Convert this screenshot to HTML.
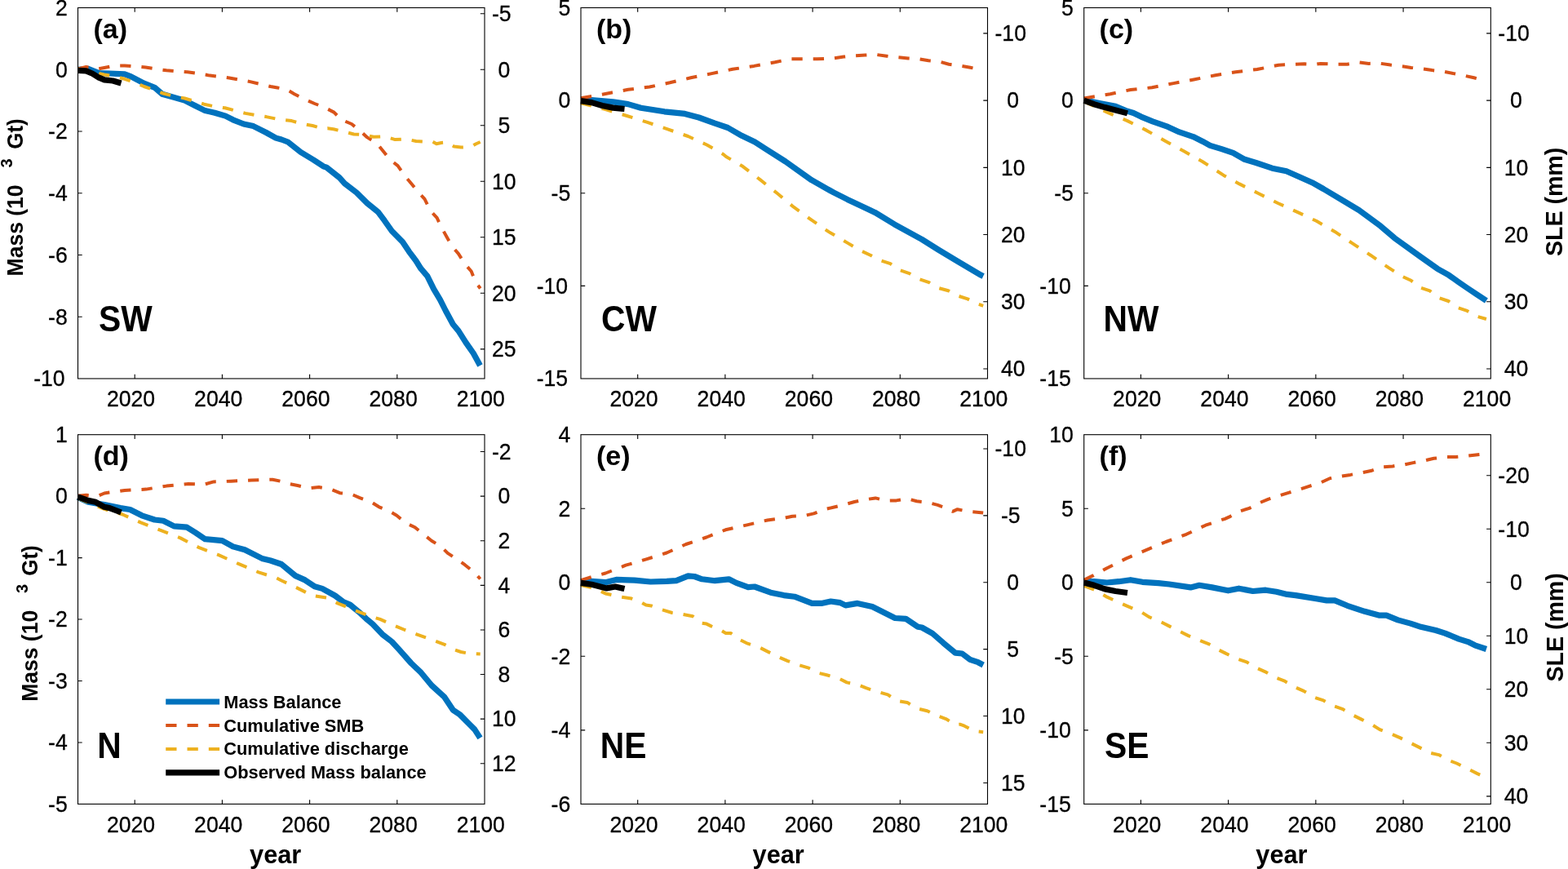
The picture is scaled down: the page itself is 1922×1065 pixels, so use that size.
<!DOCTYPE html>
<html><head><meta charset="utf-8"><title>Figure</title>
<style>html,body{margin:0;padding:0;background:#fff;overflow:hidden;}svg{display:block;}
text{font-family:"Liberation Sans",Arial,Helvetica,sans-serif;fill:#000;}</style></head>
<body><svg width="1922" height="1065" viewBox="0 0 1922 1065">
<rect width="1922" height="1065" fill="#fff"/>
<g>
<polyline points="95.5,85.3 108.1,84.3 121.3,89.6 134.4,90 152.8,90.9 160.7,93.9 176.5,102.1 189.6,107.3 198.8,115.2 213.3,119.4 226.4,123.1 239.6,129.7 251.4,135.6 263.2,138.2 276.4,142.1 285.6,146.8 298.7,152 310.6,154.6 326.3,162.5 338.2,169.1 345,171 352.9,174 368.7,186.5 384.4,196 396.3,203.8 400.2,205.1 416,217.6 422.5,224.8 437,236 450.2,249.1 463.3,259.7 471.2,270.2 480.4,283.3 493.5,296.5 501.4,308.3 509.3,318.8 515.9,329.2 523.8,338.4 531.6,354.2 539.5,367.3 546.1,380.5 555.3,397.5 561.9,405.4 571.1,419.9 580.3,433 588.5,448" fill="none" stroke="#0072bd" stroke-width="7.2" stroke-linejoin="round"/>
<polyline points="95.5,84.5 105.5,82 113,83 120,84.5 127.9,83 140,80.5 152.8,80.4 165,81.2 178.5,82.6 191,84.5 204.1,86.3 217,87.5 229.7,88.3 242,90 255.4,92.2 268,93.8 281,95.5 294,97.8 306.6,100.1 319,103 331.6,106 340,107.5 350.9,109.3 360.8,115.2 373.9,121.8 385.7,127 397.6,131.6 409.4,137.6 418.6,146.8 431.1,152 441.6,160.6 450.2,168.4 462,175.7 469.9,185.5 477.8,195.4 487.6,203.1 496.2,215.6 504,224.8 513.2,236 520.5,243.9 527.7,258.3 535.6,266.9 541.5,279.4 547.4,289.9 554,301.7 561.9,310.9 569.8,323.4 577.7,332.5 582.9,345.6 588.8,353.5" fill="none" stroke="#d95319" stroke-width="4.0" stroke-dasharray="13.3 13.0" stroke-linejoin="round"/>
<polyline points="95.5,84.5 110,87 127.9,91.5 140,93.5 152.8,96.8 165,101 176.5,106 188,110 200.2,114.5 213,118 226.4,120.5 238,124 250.1,127.7 263,130.5 275.7,132.3 288,135.5 300.7,138.9 313,141 326.3,143.1 338,145.5 345,146.8 357.5,148.1 371.3,152 383.1,154 396.3,157.9 401.5,157.3 408.7,158.3 421.2,161.2 433.7,164.5 446.2,165.2 458,167.8 471.8,167.1 484.3,171.1 497.5,170.4 510,173 523.1,173.7 529,173 535,176.3 541,175 548.1,174.4 556.6,179.6 565,180.5 571.1,180.3 577.7,179.6 583.6,176.3 588.7,174" fill="none" stroke="#edb120" stroke-width="4.0" stroke-dasharray="13.3 13.0" stroke-linejoin="round"/>
<polyline points="95.5,86.3 105.5,86.9 113.4,90.2 121.3,95.2 127.9,97.9 138.4,99 148.5,102" fill="none" stroke="#000" stroke-width="7.2" stroke-linejoin="round"/>
<rect x="95.5" y="9.5" width="498.5" height="454.5" stroke="#000" stroke-width="1.1" fill="none"/>
<path d="M165.18 464v-5.2M165.18 9.5v5.2M272.39 464v-5.2M272.39 9.5v5.2M379.59 464v-5.2M379.59 9.5v5.2M486.8 464v-5.2M486.8 9.5v5.2M95.5 388.25h5.2M95.5 312.5h5.2M95.5 236.75h5.2M95.5 161h5.2M95.5 85.25h5.2M594 16.73h-5.2M594 85.25h-5.2M594 153.77h-5.2M594 222.28h-5.2M594 290.8h-5.2M594 359.31h-5.2M594 427.83h-5.2" stroke="#000" stroke-width="1.1" fill="none"/>
<g font-size="26.6" stroke="#000" stroke-width="0.3">
<text transform="translate(160.48 497.9) scale(1 1.03)" text-anchor="middle">2020</text>
<text transform="translate(267.69 497.9) scale(1 1.03)" text-anchor="middle">2040</text>
<text transform="translate(374.89 497.9) scale(1 1.03)" text-anchor="middle">2060</text>
<text transform="translate(482.1 497.9) scale(1 1.03)" text-anchor="middle">2080</text>
<text transform="translate(589.3 497.9) scale(1 1.03)" text-anchor="middle">2100</text>
<text transform="translate(79.6 473.3) scale(1 1.03)" text-anchor="end">-10</text>
<text transform="translate(82.7 397.55) scale(1 1.03)" text-anchor="end">-8</text>
<text transform="translate(82.7 321.8) scale(1 1.03)" text-anchor="end">-6</text>
<text transform="translate(82.7 246.05) scale(1 1.03)" text-anchor="end">-4</text>
<text transform="translate(82.7 170.3) scale(1 1.03)" text-anchor="end">-2</text>
<text transform="translate(82.7 94.55) scale(1 1.03)" text-anchor="end">0</text>
<text transform="translate(82.7 18.8) scale(1 1.03)" text-anchor="end">2</text>
<text transform="translate(603 26.03) scale(1 1.03)">-5</text>
<text transform="translate(610.39 94.55) scale(1 1.03)">0</text>
<text transform="translate(610.39 163.07) scale(1 1.03)">5</text>
<text transform="translate(603 231.58) scale(1 1.03)">10</text>
<text transform="translate(603 300.1) scale(1 1.03)">15</text>
<text transform="translate(603 368.61) scale(1 1.03)">20</text>
<text transform="translate(603 437.13) scale(1 1.03)">25</text>
</g>
<text transform="translate(114.4 46.5)" font-size="34" font-weight="bold">(a)</text>
<text transform="translate(120.92 405.5) scale(1 1.08)" font-size="40.8" font-weight="bold">SW</text>
</g>
<g>
<polyline points="712,122.8 725.1,122.5 751.4,124.9 769.8,127.6 785.6,132.2 814.5,136.8 839.5,139.4 856.6,144 876.3,151.2 892.1,156.5 909.2,166.3 925.3,174 937.3,181.8 962.7,197.9 994.8,220.7 1021.8,235.9 1038.7,244.4 1072.6,260.4 1096.2,274.8 1130,293.4 1150.3,306.1 1174,320.4 1202.7,337.3 1205.2,338.5" fill="none" stroke="#0072bd" stroke-width="7.2" stroke-linejoin="round"/>
<polyline points="712,120.3 738.3,115.7 769.8,109.8 796.1,106.5 821.1,101.3 846.7,95.3 872.4,90.1 898,84.8 924.3,80.9 949.9,76.3 968.6,72.2 981.7,72.2 1001.4,72.2 1021.1,71.5 1034.3,69.6 1047.4,68.3 1060.6,67.6 1073.7,66.9 1086.9,68.7 1100,70.2 1113.2,71.5 1126.3,72.2 1138.1,74.2 1151.3,75.5 1163.1,78.8 1177.6,80.7 1189.4,82.7 1205.2,86" fill="none" stroke="#d95319" stroke-width="4.0" stroke-dasharray="13.3 13.0" stroke-linejoin="round"/>
<polyline points="712,126.2 742.2,134.1 768.5,142 793.5,149.9 818.5,158.4 843.4,167 866.4,177.5 886.8,189.3 890,192 910.3,203.8 932.3,220.7 952.5,236.8 972.8,253.7 994.8,269.7 1015.9,284.1 1038.7,297.6 1055.1,307.2 1066.9,312.7 1078.7,319 1091.4,323.2 1102.4,330.9 1114.7,335.1 1126.1,341.8 1138.8,346.1 1149.7,352.8 1162.4,356.2 1174.3,362.6 1186.1,366.4 1197.9,372.3 1205.2,374.8" fill="none" stroke="#edb120" stroke-width="4.0" stroke-dasharray="13.3 13.0" stroke-linejoin="round"/>
<polyline points="712,123.6 725.1,125.6 738.3,129.5 751.4,132.1 765.5,133.5" fill="none" stroke="#000" stroke-width="7.2" stroke-linejoin="round"/>
<rect x="712" y="9.5" width="498.5" height="454.5" stroke="#000" stroke-width="1.1" fill="none"/>
<path d="M781.68 464v-5.2M781.68 9.5v5.2M888.89 464v-5.2M888.89 9.5v5.2M996.09 464v-5.2M996.09 9.5v5.2M1103.3 464v-5.2M1103.3 9.5v5.2M712 350.38h5.2M712 236.75h5.2M712 123.12h5.2M1210.5 40.91h-5.2M1210.5 123.12h-5.2M1210.5 205.34h-5.2M1210.5 287.56h-5.2M1210.5 369.78h-5.2M1210.5 452h-5.2" stroke="#000" stroke-width="1.1" fill="none"/>
<g font-size="26.6" stroke="#000" stroke-width="0.3">
<text transform="translate(776.98 497.9) scale(1 1.03)" text-anchor="middle">2020</text>
<text transform="translate(884.19 497.9) scale(1 1.03)" text-anchor="middle">2040</text>
<text transform="translate(991.39 497.9) scale(1 1.03)" text-anchor="middle">2060</text>
<text transform="translate(1098.6 497.9) scale(1 1.03)" text-anchor="middle">2080</text>
<text transform="translate(1205.8 497.9) scale(1 1.03)" text-anchor="middle">2100</text>
<text transform="translate(696.1 473.3) scale(1 1.03)" text-anchor="end">-15</text>
<text transform="translate(696.1 359.68) scale(1 1.03)" text-anchor="end">-10</text>
<text transform="translate(699.2 246.05) scale(1 1.03)" text-anchor="end">-5</text>
<text transform="translate(699.2 132.43) scale(1 1.03)" text-anchor="end">0</text>
<text transform="translate(699.2 18.8) scale(1 1.03)" text-anchor="end">5</text>
<text transform="translate(1219.5 50.21) scale(1 1.03)">-10</text>
<text transform="translate(1234.28 132.43) scale(1 1.03)">0</text>
<text transform="translate(1226.89 214.64) scale(1 1.03)">10</text>
<text transform="translate(1226.89 296.86) scale(1 1.03)">20</text>
<text transform="translate(1226.89 379.08) scale(1 1.03)">30</text>
<text transform="translate(1226.89 461.3) scale(1 1.03)">40</text>
</g>
<text transform="translate(730.9 46.5)" font-size="34" font-weight="bold">(b)</text>
<text transform="translate(736.93 405.5) scale(1 1.08)" font-size="40.8" font-weight="bold">CW</text>
</g>
<g>
<polyline points="1328.7,122.4 1347.7,126.4 1367.4,130.3 1380,135.6 1389.4,138.5 1398.8,143.1 1412.9,148.8 1431.6,155.4 1445.7,161.9 1462.6,167.6 1473.9,173.2 1483.3,178.4 1497.4,182.6 1511.5,187.3 1525.5,195.3 1539.6,199.5 1559.4,206.2 1576.8,209.7 1594.3,217.5 1608.3,223.7 1622.2,231.5 1648.4,247.2 1665.9,257.7 1692.1,276.9 1709.5,291.8 1741,314.5 1761.9,329.3 1775.9,337.2 1788.1,345.9 1798.3,352.9 1810.1,360.8 1821.9,368.5" fill="none" stroke="#0072bd" stroke-width="7.2" stroke-linejoin="round"/>
<polyline points="1328.7,120.5 1360.9,115.2 1385.8,110 1412.1,107.3 1438.4,102.1 1463.4,97.5 1489.7,92.2 1514.6,88.3 1540.9,85 1567.2,79.7 1585.9,78.9 1599,78.3 1612.2,78.9 1618.7,77.9 1638.5,78.7 1651.6,78.7 1664.8,76.3 1677.9,77.9 1691,77.6 1704.2,79.6 1716.7,80.9 1729.8,82.9 1742.3,84.2 1755.4,86.1 1768.6,87.5 1781.7,90.1 1794.9,92.7 1806.7,95.3 1821.9,99.5" fill="none" stroke="#d95319" stroke-width="4.0" stroke-dasharray="13.3 13.0" stroke-linejoin="round"/>
<polyline points="1328.7,124.4 1358.2,138.2 1381.9,148.1 1405.5,159.9 1428.6,173 1451.6,185.5 1473.9,198 1500,214.9 1519.2,225.4 1541.9,236.7 1566.4,249 1589.1,259.4 1613.5,270.8 1636.2,283.9 1657.2,297.9 1679.9,312.7 1702.6,328.4 1717.9,338.3 1729.7,343.8 1739.9,352.1 1752.6,356.4 1762.8,364.7 1775.4,369 1786.5,376.9 1798.3,380.9 1810.1,387.6 1821.9,391" fill="none" stroke="#edb120" stroke-width="4.0" stroke-dasharray="13.3 13.0" stroke-linejoin="round"/>
<polyline points="1328.7,123.1 1341.1,127.7 1354.3,131.6 1367.4,134.9 1382,138.9" fill="none" stroke="#000" stroke-width="7.2" stroke-linejoin="round"/>
<rect x="1328.7" y="9.5" width="498.6" height="454.5" stroke="#000" stroke-width="1.1" fill="none"/>
<path d="M1398.4 464v-5.2M1398.4 9.5v5.2M1505.62 464v-5.2M1505.62 9.5v5.2M1612.85 464v-5.2M1612.85 9.5v5.2M1720.07 464v-5.2M1720.07 9.5v5.2M1328.7 350.38h5.2M1328.7 236.75h5.2M1328.7 123.12h5.2M1827.3 40.91h-5.2M1827.3 123.12h-5.2M1827.3 205.34h-5.2M1827.3 287.56h-5.2M1827.3 369.78h-5.2M1827.3 452h-5.2" stroke="#000" stroke-width="1.1" fill="none"/>
<g font-size="26.6" stroke="#000" stroke-width="0.3">
<text transform="translate(1393.7 497.9) scale(1 1.03)" text-anchor="middle">2020</text>
<text transform="translate(1500.92 497.9) scale(1 1.03)" text-anchor="middle">2040</text>
<text transform="translate(1608.15 497.9) scale(1 1.03)" text-anchor="middle">2060</text>
<text transform="translate(1715.37 497.9) scale(1 1.03)" text-anchor="middle">2080</text>
<text transform="translate(1822.6 497.9) scale(1 1.03)" text-anchor="middle">2100</text>
<text transform="translate(1312.8 473.3) scale(1 1.03)" text-anchor="end">-15</text>
<text transform="translate(1312.8 359.68) scale(1 1.03)" text-anchor="end">-10</text>
<text transform="translate(1315.9 246.05) scale(1 1.03)" text-anchor="end">-5</text>
<text transform="translate(1315.9 132.43) scale(1 1.03)" text-anchor="end">0</text>
<text transform="translate(1315.9 18.8) scale(1 1.03)" text-anchor="end">5</text>
<text transform="translate(1836.3 50.21) scale(1 1.03)">-10</text>
<text transform="translate(1851.08 132.43) scale(1 1.03)">0</text>
<text transform="translate(1843.69 214.64) scale(1 1.03)">10</text>
<text transform="translate(1843.69 296.86) scale(1 1.03)">20</text>
<text transform="translate(1843.69 379.08) scale(1 1.03)">30</text>
<text transform="translate(1843.69 461.3) scale(1 1.03)">40</text>
</g>
<text transform="translate(1347.6 46.5)" font-size="34" font-weight="bold">(c)</text>
<text transform="translate(1352.57 405.5) scale(1 1.08)" font-size="40.8" font-weight="bold">NW</text>
</g>
<g>
<polyline points="95.5,609.4 108.1,615.3 127.9,618.6 147.6,622.6 159.4,624.5 173.9,631.8 189.6,637 200.2,638.3 213.3,644.9 229.1,646.2 239.6,652.8 251.4,660.7 272.4,662.7 285.6,669.9 300,673.8 321.1,684.4 331.6,687 345,691.5 362.1,705.6 373.9,710.9 385.7,718.8 395,721.4 410.7,730 421.2,737.8 429.1,741.1 439.6,749.7 448.8,758.2 456.7,764.8 468.6,777.3 480.4,786.5 489.7,796.6 504.2,813 516,824.2 529.1,840 544.9,854.4 555.4,870.2 563.3,875.4 575.1,887.3 581.7,893.9 588.5,904.4" fill="none" stroke="#0072bd" stroke-width="7.2" stroke-linejoin="round"/>
<polyline points="95.5,607.8 105.5,606.8 114,607.5 121.3,607.3 127.9,604.5 134,603.5 152.8,600.9 179.1,599.6 204.1,595.6 231,593 250.1,593.7 261.9,590.4 283,589.7 308.6,588.4 334.2,587.7 345,590 354.2,593 364.7,595 379.2,598.3 391,597 405.5,599.6 416.6,604.2 430.4,605.5 441,610.1 454.1,614.7 464.6,621.3 476.4,625.9 486.3,631.8 497.5,641 508.6,646.2 519.8,655.4 529,662.7 540.8,669.9 548.7,677.8 560.6,685.7 569.8,692.2 581.6,701.7 588.7,709.5" fill="none" stroke="#d95319" stroke-width="4.0" stroke-dasharray="13.3 13.0" stroke-linejoin="round"/>
<polyline points="95.5,610.7 127.9,623.9 150.2,630.5 172.5,640.3 197.5,650.2 221.2,659.4 244.2,671.2 268.5,680.4 292.2,690.9 317.1,701.4 338.2,708 345,711.5 363.4,720.1 383.1,730 400.2,732.6 413.3,739.1 435.7,748.3 456.7,756.2 465.9,758.9 480.4,765.4 496.2,772 510.6,777.3 529,783.8 544.8,789.8 555.3,795.7 565,799 575,800.9 588.7,801.6" fill="none" stroke="#edb120" stroke-width="4.0" stroke-dasharray="13.3 13.0" stroke-linejoin="round"/>
<polyline points="95.5,608.8 108.1,613.4 117.3,615.3 127.9,621.3 134.4,622.6 148.5,628" fill="none" stroke="#000" stroke-width="7.2" stroke-linejoin="round"/>
<rect x="95.5" y="532.7" width="498.5" height="452.7" stroke="#000" stroke-width="1.1" fill="none"/>
<path d="M165.18 985.4v-5.2M165.18 532.7v5.2M272.39 985.4v-5.2M272.39 532.7v5.2M379.59 985.4v-5.2M379.59 532.7v5.2M486.8 985.4v-5.2M486.8 532.7v5.2M95.5 909.95h5.2M95.5 834.5h5.2M95.5 759.05h5.2M95.5 683.6h5.2M95.5 608.15h5.2M594 553.55h-5.2M594 608.15h-5.2M594 662.75h-5.2M594 717.34h-5.2M594 771.94h-5.2M594 826.53h-5.2M594 881.13h-5.2M594 935.72h-5.2" stroke="#000" stroke-width="1.1" fill="none"/>
<g font-size="26.6" stroke="#000" stroke-width="0.3">
<text transform="translate(160.48 1019.9) scale(1 1.03)" text-anchor="middle">2020</text>
<text transform="translate(267.69 1019.9) scale(1 1.03)" text-anchor="middle">2040</text>
<text transform="translate(374.89 1019.9) scale(1 1.03)" text-anchor="middle">2060</text>
<text transform="translate(482.1 1019.9) scale(1 1.03)" text-anchor="middle">2080</text>
<text transform="translate(589.3 1019.9) scale(1 1.03)" text-anchor="middle">2100</text>
<text transform="translate(82.7 994.7) scale(1 1.03)" text-anchor="end">-5</text>
<text transform="translate(82.7 919.25) scale(1 1.03)" text-anchor="end">-4</text>
<text transform="translate(82.7 843.8) scale(1 1.03)" text-anchor="end">-3</text>
<text transform="translate(82.7 768.35) scale(1 1.03)" text-anchor="end">-2</text>
<text transform="translate(82.7 692.9) scale(1 1.03)" text-anchor="end">-1</text>
<text transform="translate(82.7 617.45) scale(1 1.03)" text-anchor="end">0</text>
<text transform="translate(82.7 542) scale(1 1.03)" text-anchor="end">1</text>
<text transform="translate(603 562.85) scale(1 1.03)">-2</text>
<text transform="translate(610.39 617.45) scale(1 1.03)">0</text>
<text transform="translate(610.39 672.05) scale(1 1.03)">2</text>
<text transform="translate(610.39 726.64) scale(1 1.03)">4</text>
<text transform="translate(610.39 781.24) scale(1 1.03)">6</text>
<text transform="translate(610.39 835.83) scale(1 1.03)">8</text>
<text transform="translate(603 890.43) scale(1 1.03)">10</text>
<text transform="translate(603 945.02) scale(1 1.03)">12</text>
</g>
<text transform="translate(114.4 569.7)" font-size="34" font-weight="bold">(d)</text>
<text transform="translate(119.37 928.7) scale(1 1.08)" font-size="40.8" font-weight="bold">N</text>
<text transform="translate(337.7 1057.8)" font-size="30.7" font-weight="bold" text-anchor="middle">year</text>
</g>
<g>
<polyline points="712,713 725.1,712.4 742.2,713.7 755.4,710.4 777.7,711.1 797.4,713 817.2,712.4 829,711.7 843.4,705.8 851.3,706.5 860.5,709.8 876.3,711.7 893.4,709.8 902.6,714.4 917,719.6 924.9,719 944.6,726.2 960.8,729.6 973.9,731.2 995.3,739.4 1006.8,739.4 1018.3,737 1029.8,738.6 1036.4,741.9 1051.1,739.4 1069.2,743.5 1080.7,749.3 1097.1,757.5 1110.3,758.3 1125.1,768.2 1130,769 1143.1,776.4 1156.3,787.9 1171.1,800.2 1179.3,801 1189.1,808.4 1199,811.7 1205.2,815" fill="none" stroke="#0072bd" stroke-width="7.2" stroke-linejoin="round"/>
<polyline points="712,711.1 725.1,707.1 742.2,702.5 767.2,692.7 792.2,685.4 817.2,677.5 840.8,667 865.8,658.5 889.4,649.3 915.7,643.4 940.7,637.5 962,634.7 971.2,632.7 985.7,632.1 997.5,629.4 1010.6,624.2 1022.5,621.5 1035.6,618.3 1047.4,615 1060.6,612.3 1073.1,610.4 1086.2,613.7 1098.7,613.4 1111.8,611 1123.7,614.3 1136.8,615.6 1149.3,618.9 1161.8,623.5 1167.7,626.8 1173.6,624.2 1186.8,626.8 1199.9,627.9 1205.2,628.5" fill="none" stroke="#d95319" stroke-width="4.0" stroke-dasharray="13.3 13.0" stroke-linejoin="round"/>
<polyline points="712,717 729.1,720.9 742.2,727.5 761.9,731.7 774.1,733.6 786.8,738.8 791.9,741.6 798.5,742.5 811.2,747.2 823.8,751 837,752.9 849.2,755.2 860,763.7 866.1,764.6 871.7,767.4 883.9,772.6 889.6,775.9 895.7,775.9 907.4,784.3 916.4,788.7 931.2,793.6 941.1,798.6 954.2,805.1 965.7,810.1 978.9,815 990.4,818.3 1003.5,824.9 1013.4,827.3 1028.1,831.4 1038,836.4 1052.8,839.6 1061.6,843.2 1075.8,847.9 1088.4,851.4 1099.4,858.9 1112.1,860.9 1123.1,868 1136.5,871.2 1147.9,876.7 1160.2,881.4 1170.4,888.1 1176.7,887.7 1182.2,889.7 1194.1,896 1205.2,897.2" fill="none" stroke="#edb120" stroke-width="4.0" stroke-dasharray="13.3 13.0" stroke-linejoin="round"/>
<polyline points="712,714.4 725.1,716.3 743.5,720.9 754.1,719 765.5,721.6" fill="none" stroke="#000" stroke-width="7.2" stroke-linejoin="round"/>
<rect x="712" y="532.7" width="498.5" height="452.7" stroke="#000" stroke-width="1.1" fill="none"/>
<path d="M781.68 985.4v-5.2M781.68 532.7v5.2M888.89 985.4v-5.2M888.89 532.7v5.2M996.09 985.4v-5.2M996.09 532.7v5.2M1103.3 985.4v-5.2M1103.3 532.7v5.2M712 894.86h5.2M712 804.32h5.2M712 713.78h5.2M712 623.24h5.2M1210.5 549.99h-5.2M1210.5 631.89h-5.2M1210.5 713.78h-5.2M1210.5 795.67h-5.2M1210.5 877.57h-5.2M1210.5 959.46h-5.2" stroke="#000" stroke-width="1.1" fill="none"/>
<g font-size="26.6" stroke="#000" stroke-width="0.3">
<text transform="translate(776.98 1019.9) scale(1 1.03)" text-anchor="middle">2020</text>
<text transform="translate(884.19 1019.9) scale(1 1.03)" text-anchor="middle">2040</text>
<text transform="translate(991.39 1019.9) scale(1 1.03)" text-anchor="middle">2060</text>
<text transform="translate(1098.6 1019.9) scale(1 1.03)" text-anchor="middle">2080</text>
<text transform="translate(1205.8 1019.9) scale(1 1.03)" text-anchor="middle">2100</text>
<text transform="translate(699.2 994.7) scale(1 1.03)" text-anchor="end">-6</text>
<text transform="translate(699.2 904.16) scale(1 1.03)" text-anchor="end">-4</text>
<text transform="translate(699.2 813.62) scale(1 1.03)" text-anchor="end">-2</text>
<text transform="translate(699.2 723.08) scale(1 1.03)" text-anchor="end">0</text>
<text transform="translate(699.2 632.54) scale(1 1.03)" text-anchor="end">2</text>
<text transform="translate(699.2 542) scale(1 1.03)" text-anchor="end">4</text>
<text transform="translate(1219.5 559.29) scale(1 1.03)">-10</text>
<text transform="translate(1226.89 641.19) scale(1 1.03)">-5</text>
<text transform="translate(1234.28 723.08) scale(1 1.03)">0</text>
<text transform="translate(1234.28 804.97) scale(1 1.03)">5</text>
<text transform="translate(1226.89 886.87) scale(1 1.03)">10</text>
<text transform="translate(1226.89 968.76) scale(1 1.03)">15</text>
</g>
<text transform="translate(730.9 569.7)" font-size="34" font-weight="bold">(e)</text>
<text transform="translate(735.87 928.7) scale(1 1.08)" font-size="40.8" font-weight="bold">NE</text>
<text transform="translate(954.2 1057.8)" font-size="30.7" font-weight="bold" text-anchor="middle">year</text>
</g>
<g>
<polyline points="1328.7,712.7 1341.1,712.7 1356.9,714 1371.4,712.7 1385.8,710.7 1400.3,713.3 1420,714.6 1433.2,716 1459.4,719.9 1470,717.3 1485.7,719.9 1498.9,722.5 1505.4,723.8 1518.6,721.2 1535.7,724.5 1551.4,723.2 1564.6,725.2 1577.7,728.4 1588.2,729.6 1613.5,733.8 1626.2,735.9 1636.1,735.9 1651.5,742.3 1672.7,749.3 1691,754.2 1699.4,754.2 1713.5,759.9 1729,764.1 1741.7,768.3 1760,772.5 1771.3,776.1 1788.2,783.1 1799.4,786.6 1807.9,790.8 1821.9,795.5" fill="none" stroke="#0072bd" stroke-width="7.2" stroke-linejoin="round"/>
<polyline points="1328.7,710.7 1339.8,705.4 1356.9,696.2 1380.6,684.4 1405.5,673.9 1429.2,664 1454.2,654.8 1477.8,643.7 1501.5,635.8 1507,633.4 1520.1,626.4 1531.4,622.9 1544.5,616 1555,611.6 1569,607.2 1580.3,603.7 1594.3,599.4 1604.8,595.9 1618.7,591.5 1630.1,586.3 1643.2,583.7 1655.4,581.9 1669.4,579.3 1681.6,576.7 1694.7,572.3 1706.9,571.4 1720,569.7 1732.2,567.1 1746.2,564.4 1757.6,561.8 1772.4,560.1 1784.6,560.1 1797.7,558.9 1809.1,557.5 1821.9,556" fill="none" stroke="#d95319" stroke-width="4.0" stroke-dasharray="13.3 13.0" stroke-linejoin="round"/>
<polyline points="1328.7,717.9 1341.1,722.5 1356.9,731.7 1381.9,742.9 1399.2,750.3 1408.4,756.1 1422.2,761.8 1433.7,767.6 1447.5,774.5 1456.7,779.1 1470.5,784.8 1482,789.4 1493.5,796.3 1502.7,800.9 1517.6,807.8 1528,811.3 1541.8,819.3 1552.1,823.9 1564.8,830.8 1574,834.3 1587.8,842.3 1598.1,846.9 1611.9,855 1622.3,858.4 1634.9,865.3 1645.3,868.8 1659.1,876.8 1668.3,881.4 1682.1,888.3 1691.3,894.1 1706.2,899.8 1716.6,904.4 1730.4,911.3 1739.6,915.9 1753.4,922.8 1763.7,925.1 1776.4,932 1785.6,935.5 1799.4,942.4 1810.9,948.1 1821.9,953" fill="none" stroke="#edb120" stroke-width="4.0" stroke-dasharray="13.3 13.0" stroke-linejoin="round"/>
<polyline points="1328.7,714 1341.1,717.3 1354.3,721.9 1367.4,724.5 1382,726.5" fill="none" stroke="#000" stroke-width="7.2" stroke-linejoin="round"/>
<rect x="1328.7" y="532.7" width="498.6" height="452.7" stroke="#000" stroke-width="1.1" fill="none"/>
<path d="M1398.4 985.4v-5.2M1398.4 532.7v5.2M1505.62 985.4v-5.2M1505.62 532.7v5.2M1612.85 985.4v-5.2M1612.85 532.7v5.2M1720.07 985.4v-5.2M1720.07 532.7v5.2M1328.7 894.86h5.2M1328.7 804.32h5.2M1328.7 713.78h5.2M1328.7 623.24h5.2M1827.3 582.75h-5.2M1827.3 648.27h-5.2M1827.3 713.78h-5.2M1827.3 779.29h-5.2M1827.3 844.81h-5.2M1827.3 910.32h-5.2M1827.3 975.84h-5.2" stroke="#000" stroke-width="1.1" fill="none"/>
<g font-size="26.6" stroke="#000" stroke-width="0.3">
<text transform="translate(1393.7 1019.9) scale(1 1.03)" text-anchor="middle">2020</text>
<text transform="translate(1500.92 1019.9) scale(1 1.03)" text-anchor="middle">2040</text>
<text transform="translate(1608.15 1019.9) scale(1 1.03)" text-anchor="middle">2060</text>
<text transform="translate(1715.37 1019.9) scale(1 1.03)" text-anchor="middle">2080</text>
<text transform="translate(1822.6 1019.9) scale(1 1.03)" text-anchor="middle">2100</text>
<text transform="translate(1312.8 994.7) scale(1 1.03)" text-anchor="end">-15</text>
<text transform="translate(1312.8 904.16) scale(1 1.03)" text-anchor="end">-10</text>
<text transform="translate(1315.9 813.62) scale(1 1.03)" text-anchor="end">-5</text>
<text transform="translate(1315.9 723.08) scale(1 1.03)" text-anchor="end">0</text>
<text transform="translate(1315.9 632.54) scale(1 1.03)" text-anchor="end">5</text>
<text transform="translate(1315.9 542) scale(1 1.03)" text-anchor="end">10</text>
<text transform="translate(1836.3 592.05) scale(1 1.03)">-20</text>
<text transform="translate(1836.3 657.57) scale(1 1.03)">-10</text>
<text transform="translate(1851.08 723.08) scale(1 1.03)">0</text>
<text transform="translate(1843.69 788.59) scale(1 1.03)">10</text>
<text transform="translate(1843.69 854.11) scale(1 1.03)">20</text>
<text transform="translate(1843.69 919.62) scale(1 1.03)">30</text>
<text transform="translate(1843.69 985.14) scale(1 1.03)">40</text>
</g>
<text transform="translate(1347.6 569.7)" font-size="34" font-weight="bold">(f)</text>
<text transform="translate(1354.12 928.7) scale(1 1.08)" font-size="40.8" font-weight="bold">SE</text>
<text transform="translate(1570.95 1057.8)" font-size="30.7" font-weight="bold" text-anchor="middle">year</text>
</g>
<text transform="translate(28.2 338.4) rotate(-90) scale(1 1.03)" font-size="26.5" font-weight="bold">Mass (10</text>
<text transform="translate(15 205.6) rotate(-90) scale(1 1.04)" font-size="20" font-weight="bold">3</text>
<text transform="translate(28.2 182.8) rotate(-90) scale(1 1.04)" font-size="26" font-weight="bold">Gt)</text>
<text transform="translate(46.4 859.8) rotate(-90) scale(1 1.03)" font-size="26.5" font-weight="bold">Mass (10</text>
<text transform="translate(33.5 727) rotate(-90) scale(1 1.04)" font-size="20" font-weight="bold">3</text>
<text transform="translate(46.4 705.8) rotate(-90) scale(1 1.04)" font-size="26" font-weight="bold">Gt)</text>
<text transform="translate(1915.4 314.1) rotate(-90) scale(1 1.03)" font-size="28.6" font-weight="bold">SLE (mm)</text>
<text transform="translate(1915.6 835.6) rotate(-90) scale(1 1.03)" font-size="28.6" font-weight="bold">SLE (mm)</text>
<path d="M203.2 860H269.1" stroke="#0072bd" stroke-width="7.2" fill="none"/>
<text transform="translate(274.3 867.7) scale(1 1.04)" font-size="21.8" font-weight="bold">Mass Balance</text>
<path d="M203.2 889H269.1" stroke="#d95319" stroke-width="4.0" stroke-dasharray="13.3 13.0" fill="none"/>
<text transform="translate(274.3 896.5) scale(1 1.04)" font-size="21.8" font-weight="bold">Cumulative SMB</text>
<path d="M203.2 917.9H269.1" stroke="#edb120" stroke-width="4.0" stroke-dasharray="13.3 13.0" fill="none"/>
<text transform="translate(274.3 925.2) scale(1 1.04)" font-size="21.8" font-weight="bold">Cumulative discharge</text>
<path d="M203.2 946.9H269.1" stroke="#000" stroke-width="7.2" fill="none"/>
<text transform="translate(274.3 954) scale(1 1.04)" font-size="21.8" font-weight="bold">Observed Mass balance</text>
</svg></body></html>
